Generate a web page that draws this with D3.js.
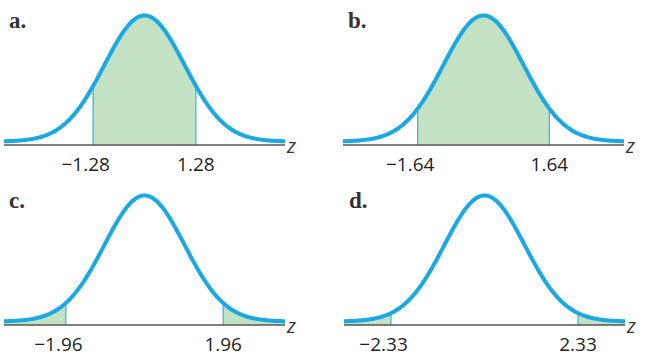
<!DOCTYPE html>
<html>
<head>
<meta charset="utf-8">
<script src="https://cdn.jsdelivr.net/npm/d3@7"></script>
<style>
  body { margin: 0; background: #fff; }
  svg { display: block; }
</style>
</head>
<body>
<svg width="647" height="364"></svg>
<script>
// the four panels of the figure
const panelNames = ['a.', 'b.', 'c.', 'd.'];
const cutoffs = [1.28, 1.64, 1.96, 2.33];
const shadeParts = ['middle', 'middle', 'tails', 'tails'];
// panel origins (left of the axis, top of the panel)
const panelX = [4, 343, 4, 344];
const panelY = [0, 0, 180, 180];

const zMin = -3.5, zMax = 3.5;
const peak = 1 / Math.sqrt(2 * Math.PI);

function density(z) {
    return peak * Math.exp(-z * z / 2);
}

const svg = d3.select('svg');

const blue = '#18a9e6';
const green = '#c3e2c3';
const labelFont = '"Open Sans", sans-serif';

panelNames.forEach(function (name, i) {
    const g = svg.append('g')
        .attr('transform', 'translate(' + panelX[i] + ',' + panelY[i] + ')');

    const x = d3.scaleLinear().domain([zMin, zMax]).range([0, 281]);
    const y = d3.scaleLinear().domain([0, peak]).range([141.5, 15.5]);
    const axisY = 145;

    const zs = d3.range(zMin, zMax + 0.001, 0.02);
    const c = cutoffs[i];

    // shaded parts between curve and axis
    const area = d3.area()
        .x(function (z) { return x(z) })
        .y0(axisY)
        .y1(function (z) { return y(density(z)) });

    let pieces;
    if (shadeParts[i] === 'middle') {
        pieces = [zs.filter(z => z >= -c && z <= c).concat([c])];
        pieces[0].unshift(-c);
    } else {
        const left = zs.filter(z => z <= -c); left.push(-c);
        const right = zs.filter(z => z >= c); right.unshift(c);
        pieces = [left, right];
    }
    pieces.forEach(function (p) {
        g.append('path').attr('d', area(p)).attr('fill', green);
    });

    // boundary lines
    [-c, c].forEach(function (z) {
        g.append('line')
            .attr('x1', x(z)).attr('x2', x(z))
            .attr('y1', y(density(z))).attr('y2', axisY)
            .attr('stroke', '#3aaee0').attr('stroke-width', 1.2);
    });

    // axis
    g.append('line')
        .attr('x1', 0).attr('x2', 281)
        .attr('y1', axisY).attr('y2', axisY)
        .attr('stroke', '#555').attr('stroke-width', 1.5);

    // normal curve
    const line = d3.line()
        .x(function (z) { return x(z) })
        .y(function (z) { return y(density(z)) });
    g.append('path')
        .attr('d', line(zs))
        .attr('fill', 'none')
        .attr('stroke', blue)
        .attr('stroke-width', 4)
        .attr('stroke-linejoin', 'round');

    // z label
    g.append('text')
        .attr('x', 283).attr('y', 152.5)
        .attr('font-family', labelFont)
        .attr('font-style', 'italic')
        .attr('font-size', 20)
        .attr('fill', '#333')
        .text('z');

    // tick labels, number part centred on the boundary
    [-c, c].forEach(function (z) {
        const t = g.append('text')
            .attr('y', 170.5)
            .attr('font-family', labelFont)
            .attr('font-size', 19)
            .attr('fill', '#231f20')
            .attr('text-anchor', 'end')
            .text(z < 0 ? '\u2212' + d3.format('.2f')(-z) : d3.format('.2f')(z));
        const tmp = g.append('text')
            .attr('font-family', labelFont)
            .attr('font-size', 19)
            .text(d3.format('.2f')(Math.abs(z)));
        const w = tmp.node().getComputedTextLength();
        tmp.remove();
        t.attr('x', x(z) + w / 2 - (z < 0 ? 2 : 0));
    });

    // panel letter
    svg.append('text')
        .attr('x', panelX[i] + 5)
        .attr('y', panelY[i] + 28)
        .attr('font-family', '"Liberation Serif", serif')
        .attr('font-weight', 'bold')
        .attr('font-size', 23)
        .attr('fill', '#333')
        .text(name);
});
</script>
</body>
</html>
